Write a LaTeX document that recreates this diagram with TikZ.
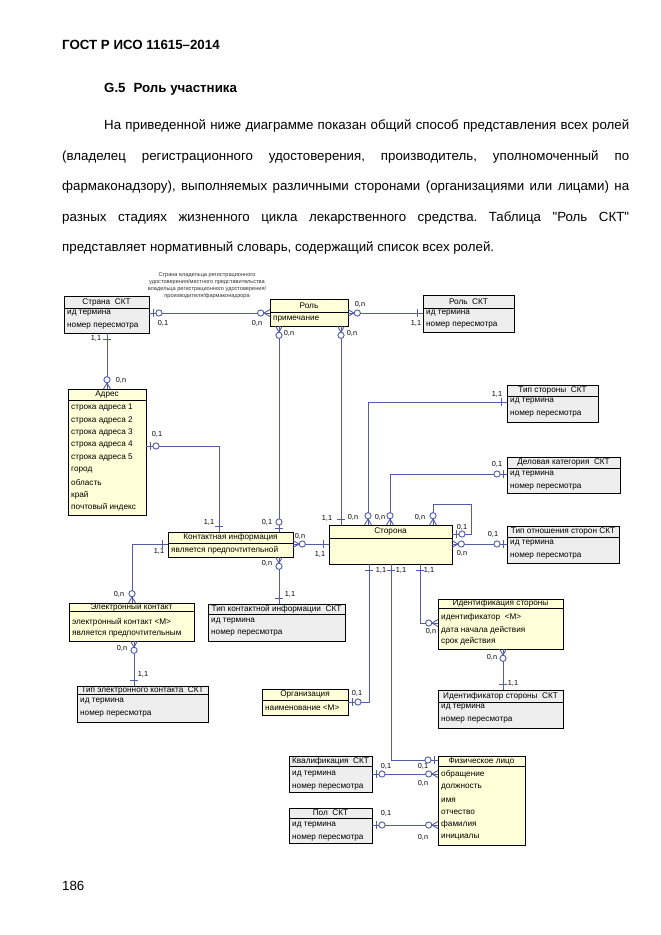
\documentclass[tikz,border=0pt]{standalone}
\usepackage{fontspec}
\setmainfont{Liberation Sans}
\setmonofont{Liberation Sans}
\definecolor{lnb}{RGB}{82,92,168}
\definecolor{ylw}{RGB}{255,255,216}
\definecolor{gry}{RGB}{238,238,238}
\newcommand\dgf{\fontsize{8.2}{9}\selectfont}
\newcommand\lblf{\fontsize{7.3}{8}\selectfont}
\newcommand\capf{\fontsize{5.6}{6.5}\selectfont}
\newcommand\bodyf{\fontsize{13.3}{16}\selectfont}
\newcommand\sq{\texttt{"}}
\frenchspacing
\tikzset{
  entbox/.style={draw=black, line width=0.9pt, inner sep=0pt, outer sep=0pt},
  entln/.style={draw=black, line width=0.9pt},
  ttl/.style={font=\dgf, inner sep=0pt},
  att/.style={font=\dgf, anchor=west, inner sep=0pt},
  lbl/.style={font=\lblf, inner sep=0pt},
  captxt/.style={font=\capf, inner sep=0pt, text=black!80},
  bodytxt/.style={font=\bodyf, anchor=base west, inner sep=0pt},
  conn/.style={draw=lnb, line width=0.9pt},
  pics/mkone/.style={code={\draw[conn] (6,-4) -- (6,4);}},
  pics/mkzo/.style={code={\draw[conn] (4,-4) -- (4,4); \draw[conn,fill=white] (10,0) circle[radius=3.1pt];}},
  pics/mkzn/.style={code={\draw[conn] (0,3.5) -- (6,0) -- (0,-3.5); \draw[conn,fill=white] (9.3,0) circle[radius=3.1pt];}},
}
\newcommand\erent[8]{%
  \pgfmathsetmacro\entW{#4-#2}%
  \pgfmathsetmacro\entH{#5-#3}%
  \node[entbox,fill=#7,minimum width=\entW pt,minimum height=\entH pt,anchor=north west] (#1) at (#2,#3) {};
  \draw[entln] (#2,#6) -- (#4,#6);
  \node[ttl] (#1-t) at ({(#2+#4)/2},{(#3+#6)/2}) {#8};
}
\begin{document}
\begin{tikzpicture}[x=1pt,y=-1pt]
\fill[white] (0,0) rectangle (661,935);
\useasboundingbox (0,0) rectangle (661,935);

% ---- text ----
\node[bodytxt,font=\bodyf\bfseries] (hdr) at (62,49) {ГОСТ Р ИСО 11615–2014};
\node[bodytxt,font=\bodyf\bfseries] (sec) at (104,92) {G.5\hspace{8pt}Роль участника};
\node[bodytxt] (p1) at (104,129.5) {\makebox[525pt][s]{На приведенной ниже диаграмме показан общий способ представления всех ролей}};
\node[bodytxt] (p2) at (62,160.5) {\makebox[567pt][s]{(владелец регистрационного удостоверения, производитель, уполномоченный по}};
\node[bodytxt] (p3) at (62,190.5) {\makebox[567pt][s]{фармаконадзору), выполняемых различными сторонами (организациями или лицами) на}};
\node[bodytxt] (p4) at (62,221.5) {\makebox[567pt][s]{разных стадиях жизненного цикла лекарственного средства. Таблица \sq Роль СКТ\sq}};
\node[bodytxt] (p5) at (62,251.5) {представляет нормативный словарь, содержащий список всех ролей.};
\node[bodytxt] (pg) at (62,890) {186};

% ---- entities ----
\erent{strana}{64}{296}{149}{333}{308}{gry}{Страна~~СКТ}
\node[att] (strana-a1) at (67,313.5) {ид термина};
\node[att] (strana-a2) at (67,326) {номер пересмотра};

\erent{rol}{270}{299}{348}{326}{312.5}{ylw}{Роль}
\node[att] (rol-a1) at (273,319.5) {примечание};

\erent{rolskt}{423}{295}{514}{332}{308}{gry}{Роль~~СКТ}
\node[att] (rolskt-a1) at (426,313) {ид термина};
\node[att] (rolskt-a2) at (426,325.5) {номер пересмотра};

\erent{adres}{68}{389}{146}{515}{400}{ylw}{Адрес}
\node[att] (adres-a1) at (71,407.5) {строка адреса 1};
\node[att] (adres-a2) at (71,420) {строка адреса 2};
\node[att] (adres-a3) at (71,432.5) {строка адреса 3};
\node[att] (adres-a4) at (71,445) {строка адреса 4};
\node[att] (adres-a5) at (71,457.5) {строка адреса 5};
\node[att] (adres-a6) at (71,470) {город};
\node[att] (adres-a7) at (71,482.5) {область};
\node[att] (adres-a8) at (71,495) {край};
\node[att] (adres-a9) at (71,507.5) {почтовый индекс};

\erent{tipstor}{507}{385}{598}{422}{396}{gry}{Тип стороны~~СКТ}
\node[att] (tipstor-a1) at (510,401.5) {ид термина};
\node[att] (tipstor-a2) at (510,414) {номер пересмотра};

\erent{delkat}{507}{457}{620}{493}{468}{gry}{Деловая категория~~СКТ}
\node[att] (delkat-a1) at (510,474) {ид термина};
\node[att] (delkat-a2) at (510,487) {номер пересмотра};

\erent{kontinf}{168}{532}{293}{557}{543.5}{ylw}{Контактная информация}
\node[att] (kontinf-a1) at (171,550.5) {является предпочтительной};

\erent{storona}{329}{525}{452}{564}{538}{ylw}{Сторона}

\erent{tipotn}{507}{526}{619}{563}{537}{gry}{Тип отношения сторон СКТ}
\node[att] (tipotn-a1) at (510,543) {ид термина};
\node[att] (tipotn-a2) at (510,556) {номер пересмотра};

\erent{elkont}{69}{603}{194}{641}{611}{ylw}{Электронный контакт}
\node[att] (elkont-a1) at (72,622) {электронный контакт <M>};
\node[att] (elkont-a2) at (72,634.5) {является предпочтительным};

\erent{tipki}{208}{604}{345}{641}{614.5}{gry}{Тип контактной информации~~СКТ}
\node[att] (tipki-a1) at (211,621.5) {ид термина};
\node[att] (tipki-a2) at (211,633.5) {номер пересмотра};

\erent{identst}{438}{599}{563}{649}{608}{ylw}{Идентификация стороны}
\node[att] (identst-a1) at (441,617) {идентификатор~~<M>};
\node[att] (identst-a2) at (441,630) {дата начала действия};
\node[att] (identst-a3) at (441,641) {срок действия};

\erent{tipel}{77}{686}{208}{722}{694}{gry}{Тип электронного контакта~~СКТ}
\node[att] (tipel-a1) at (80,701) {ид термина};
\node[att] (tipel-a2) at (80,714) {номер пересмотра};

\erent{organiz}{262}{689}{348}{715}{700}{ylw}{Организация}
\node[att] (organiz-a1) at (265,708) {наименование <M>};

\erent{identskt}{438}{690}{563}{728}{702}{gry}{Идентификатор стороны~~СКТ}
\node[att] (identskt-a1) at (441,707.5) {ид термина};
\node[att] (identskt-a2) at (441,720) {номер пересмотра};

\erent{kval}{289}{756}{372}{792}{766}{gry}{Квалификация~~СКТ}
\node[att] (kval-a1) at (292,774) {ид термина};
\node[att] (kval-a2) at (292,787) {номер пересмотра};

\erent{fiz}{438}{756}{525}{845}{766}{ylw}{Физическое лицо}
\node[att] (fiz-a1) at (441,774.5) {обращение};
\node[att] (fiz-a2) at (441,787.5) {должность};
\node[att] (fiz-a3) at (441,800) {имя};
\node[att] (fiz-a4) at (441,812.5) {отчество};
\node[att] (fiz-a5) at (441,824.5) {фамилия};
\node[att] (fiz-a6) at (441,837.5) {инициалы};

\erent{pol}{289}{808}{372}{843}{818}{gry}{Пол~~СКТ}
\node[att] (pol-a1) at (292,825.5) {ид термина};
\node[att] (pol-a2) at (292,838) {номер пересмотра};

% ---- caption of Страна-Роль ----
\node[captxt] (cap1) at (207,275.5) {Страна владельца регистрационного};
\node[captxt] (cap2) at (207,282.3) {удостоверения/местного представительства};
\node[captxt] (cap3) at (207,289.1) {владельца регистрационного удостоверения/};
\node[captxt] (cap4) at (207,296) {производителя/фармаконадзора};

% ---- connectors ----
% A Страна - Роль
\draw[conn] (strana.east |- 0,313) -- (rol.west |- 0,313);
\pic at (strana.east |- 0,313) {mkzo};
\pic[rotate=180] at (rol.west |- 0,313) {mkzn};
\node[lbl] (lA1) at (163,323) {0,1};
\node[lbl] (lA2) at (257,323) {0,n};
% B Роль - Роль СКТ
\draw[conn] (rol.east |- 0,313) -- (rolskt.west |- 0,313);
\pic at (rol.east |- 0,313) {mkzn};
\pic[rotate=180] at (rolskt.west |- 0,313) {mkone};
\node[lbl] (lB1) at (360,304) {0,n};
\node[lbl] (lB2) at (416,323) {1,1};
% C Страна - Адрес
\draw[conn] (107,0 |- strana.south) -- (107,0 |- adres.north);
\pic[rotate=-90] at (107,0 |- strana.south) {mkone};
\pic[rotate=90] at (107,0 |- adres.north) {mkzn};
\node[lbl] (lC1) at (96,338) {1,1};
\node[lbl] (lC2) at (121,380) {0,n};
% D Адрес - Контактная информация
\draw[conn] (adres.east |- 0,446) -- (219,446) -- (219,0 |- kontinf.north);
\pic at (adres.east |- 0,446) {mkzo};
\pic[rotate=90] at (219,0 |- kontinf.north) {mkone};
\node[lbl] (lD1) at (157,434) {0,1};
\node[lbl] (lD2) at (209,522) {1,1};
% E Роль - Контактная информация
\draw[conn] (279,0 |- rol.south) -- (279,0 |- kontinf.north);
\pic[rotate=-90] at (279,0 |- rol.south) {mkzn};
\pic[rotate=90] at (279,0 |- kontinf.north) {mkzo};
\node[lbl] (lE1) at (289,333) {0,n};
\node[lbl] (lE2) at (267,522) {0,1};
% F Роль - Сторона
\draw[conn] (341,0 |- rol.south) -- (341,0 |- storona.north);
\pic[rotate=-90] at (341,0 |- rol.south) {mkzn};
\pic[rotate=90] at (341,0 |- storona.north) {mkone};
\node[lbl] (lF1) at (352,333) {0,n};
\node[lbl] (lF2) at (327,518) {1,1};
% G Контактная информация - Сторона
\draw[conn] (kontinf.east |- 0,544) -- (storona.west |- 0,544);
\pic at (kontinf.east |- 0,544) {mkzn};
\pic[rotate=180] at (storona.west |- 0,544) {mkone};
\node[lbl] (lG1) at (300,536) {0,n};
\node[lbl] (lG2) at (320,554) {1,1};
% H Контактная информация - Электронный контакт
\draw[conn] (kontinf.west |- 0,544) -- (132,544) -- (132,0 |- elkont.north);
\pic[rotate=180] at (kontinf.west |- 0,544) {mkone};
\pic[rotate=90] at (132,0 |- elkont.north) {mkzn};
\node[lbl] (lH1) at (159,551) {1,1};
\node[lbl] (lH2) at (119,594) {0,n};
% I Контактная информация - Тип КИ СКТ
\draw[conn] (279,0 |- kontinf.south) -- (279,0 |- tipki.north);
\pic[rotate=-90] at (279,0 |- kontinf.south) {mkzn};
\pic[rotate=90] at (279,0 |- tipki.north) {mkone};
\node[lbl] (lI1) at (267,563) {0,n};
\node[lbl] (lI2) at (290,594) {1,1};
% J Электронный контакт - Тип эл. контакта СКТ
\draw[conn] (134,0 |- elkont.south) -- (134,0 |- tipel.north);
\pic[rotate=-90] at (134,0 |- elkont.south) {mkzn};
\pic[rotate=90] at (134,0 |- tipel.north) {mkone};
\node[lbl] (lJ1) at (122,648.5) {0,n};
\node[lbl] (lJ2) at (143,674) {1,1};
% K Сторона - Тип стороны СКТ
\draw[conn] (368,0 |- storona.north) -- (368,402) -- (tipstor.west |- 0,402);
\pic[rotate=90] at (368,0 |- storona.north) {mkzn};
\pic[rotate=180] at (tipstor.west |- 0,402) {mkone};
\node[lbl] (lK1) at (353,517) {0,n};
\node[lbl] (lK2) at (497,394) {1,1};
% L Сторона - Деловая категория СКТ
\draw[conn] (390,0 |- storona.north) -- (390,474) -- (delkat.west |- 0,474);
\pic[rotate=90] at (390,0 |- storona.north) {mkzn};
\pic[rotate=180] at (delkat.west |- 0,474) {mkzo};
\node[lbl] (lL1) at (380,517) {0,n};
\node[lbl] (lL2) at (497,464) {0,1};
% M Сторона - Сторона (loop)
\draw[conn] (433,0 |- storona.north) -- (433,504) -- (471,504) -- (471,534) -- (storona.east |- 0,534);
\pic[rotate=90] at (433,0 |- storona.north) {mkzn};
\pic at (storona.east |- 0,534) {mkzo};
\node[lbl] (lM1) at (420,517) {0,n};
\node[lbl] (lM2) at (462,527) {0,1};
% N Сторона - Тип отношения сторон СКТ
\draw[conn] (storona.east |- 0,544) -- (tipotn.west |- 0,544);
\pic at (storona.east |- 0,544) {mkzn};
\pic[rotate=180] at (tipotn.west |- 0,544) {mkzo};
\node[lbl] (lN1) at (462,553) {0,n};
\node[lbl] (lN2) at (493,534) {0,1};
% O Сторона - Организация
\draw[conn] (369,0 |- storona.south) -- (369,702) -- (organiz.east |- 0,702);
\pic[rotate=-90] at (369,0 |- storona.south) {mkone};
\pic at (organiz.east |- 0,702) {mkzo};
\node[lbl] (lO1) at (381,570) {1,1};
\node[lbl] (lO2) at (357,693) {0,1};
% P Сторона - Физическое лицо
\draw[conn] (391,0 |- storona.south) -- (391,760) -- (fiz.west |- 0,760);
\pic[rotate=-90] at (391,0 |- storona.south) {mkone};
\pic[rotate=180] at (fiz.west |- 0,760) {mkzo};
\node[lbl] (lP1) at (401,570) {1,1};
\node[lbl] (lP2) at (423,766) {0,1};
% Q Сторона - Идентификация стороны
\draw[conn] (420,0 |- storona.south) -- (420,623) -- (identst.west |- 0,623);
\pic[rotate=-90] at (420,0 |- storona.south) {mkone};
\pic[rotate=180] at (identst.west |- 0,623) {mkzn};
\node[lbl] (lQ1) at (429,570) {1,1};
\node[lbl] (lQ2) at (431,631) {0,n};
% R Идентификация стороны - Идентификатор стороны СКТ
\draw[conn] (503,0 |- identst.south) -- (503,0 |- identskt.north);
\pic[rotate=-90] at (503,0 |- identst.south) {mkzn};
\pic[rotate=90] at (503,0 |- identskt.north) {mkone};
\node[lbl] (lR1) at (492,657) {0,n};
\node[lbl] (lR2) at (513,683) {1,1};
% S Квалификация СКТ - Физическое лицо
\draw[conn] (kval.east |- 0,774) -- (fiz.west |- 0,774);
\pic at (kval.east |- 0,774) {mkzo};
\pic[rotate=180] at (fiz.west |- 0,774) {mkzn};
\node[lbl] (lS1) at (386,766) {0,1};
\node[lbl] (lS2) at (423,783) {0,n};
% T Пол СКТ - Физическое лицо
\draw[conn] (pol.east |- 0,825) -- (fiz.west |- 0,825);
\pic at (pol.east |- 0,825) {mkzo};
\pic[rotate=180] at (fiz.west |- 0,825) {mkzn};
\node[lbl] (lT1) at (386,813) {0,1};
\node[lbl] (lT2) at (423,837) {0,n};
\end{tikzpicture}
\end{document}
